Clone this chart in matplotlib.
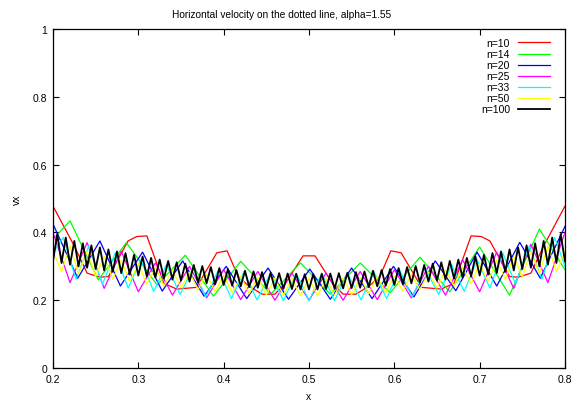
import matplotlib
matplotlib.use("Agg")
import matplotlib.pyplot as plt
import numpy as np

plt.rcParams['font.family'] = ['Liberation Sans', 'DejaVu Sans']

# n=10
red_x = [0.200, 0.225, 0.240, 0.255, 0.265, 0.288, 0.298, 0.310, 0.330, 0.345,
         0.368, 0.392, 0.404, 0.417, 0.429, 0.445, 0.460, 0.472, 0.493, 0.507,
         0.528, 0.540, 0.555, 0.571, 0.583, 0.596, 0.608, 0.632, 0.655, 0.670,
         0.690, 0.702, 0.712, 0.735, 0.745, 0.760, 0.775, 0.800]
red_y = [0.478, 0.36, 0.28, 0.268, 0.27, 0.375, 0.388, 0.39, 0.25, 0.233,
         0.238, 0.34, 0.346, 0.27, 0.243, 0.218, 0.218, 0.248, 0.331, 0.331,
         0.248, 0.218, 0.218, 0.243, 0.27, 0.346, 0.34, 0.238, 0.233, 0.25,
         0.39, 0.388, 0.375, 0.27, 0.268, 0.28, 0.36, 0.478]

# n=14
green_x = [0.2, 0.22, 0.253, 0.286, 0.322, 0.355, 0.388, 0.42, 0.455, 0.49,
           0.525, 0.56, 0.595, 0.63, 0.665, 0.70, 0.735, 0.77, 0.8]
green_y = [0.38, 0.434, 0.26, 0.37, 0.245, 0.333, 0.212, 0.315, 0.218, 0.31,
           0.218, 0.31, 0.222, 0.327, 0.225, 0.357, 0.215, 0.41, 0.29]

# n=20
blue_x = [0.2, 0.229, 0.255, 0.279, 0.305, 0.328, 0.352, 0.377, 0.403, 0.427,
          0.452, 0.476, 0.501, 0.525, 0.55, 0.574, 0.599, 0.623, 0.648, 0.672,
          0.697, 0.72, 0.747, 0.771, 0.8]
blue_y = [0.425, 0.265, 0.375, 0.242, 0.342, 0.227, 0.316, 0.212, 0.30, 0.205,
          0.295, 0.203, 0.292, 0.203, 0.295, 0.205, 0.30, 0.21, 0.316, 0.228,
          0.342, 0.242, 0.371, 0.265, 0.418]

# n=25
mag_x = [0.20, 0.22, 0.24, 0.26, 0.28, 0.30, 0.32, 0.34, 0.36, 0.38, 0.40,
         0.42, 0.44, 0.46, 0.48, 0.50, 0.52, 0.54, 0.56, 0.58, 0.60, 0.62,
         0.64, 0.66, 0.68, 0.70, 0.72, 0.74, 0.76, 0.78, 0.80]
mag_y = [0.40, 0.252, 0.37, 0.235, 0.345, 0.225, 0.31, 0.215, 0.30, 0.207,
         0.29, 0.202, 0.285, 0.20, 0.28, 0.20, 0.28, 0.20, 0.285, 0.202,
         0.29, 0.207, 0.30, 0.215, 0.32, 0.225, 0.342, 0.235, 0.365, 0.252, 0.40]

# n=33
cyan_x = [0.2, 0.212, 0.227, 0.242, 0.258, 0.273, 0.288, 0.303, 0.318, 0.333,
          0.349, 0.364, 0.379, 0.394, 0.409, 0.424, 0.439, 0.455, 0.470, 0.485,
          0.500, 0.515, 0.530, 0.545, 0.561, 0.576, 0.591, 0.606, 0.621, 0.636,
          0.652, 0.667, 0.682, 0.697, 0.712, 0.727, 0.742, 0.758, 0.773, 0.788, 0.8]
cyan_y = [0.34, 0.385, 0.262, 0.36, 0.248, 0.34, 0.236, 0.32, 0.226, 0.305,
          0.217, 0.295, 0.210, 0.29, 0.205, 0.285, 0.201, 0.28, 0.199, 0.28,
          0.198, 0.28, 0.199, 0.28, 0.201, 0.285, 0.205, 0.29, 0.210, 0.295,
          0.217, 0.305, 0.226, 0.32, 0.236, 0.34, 0.248, 0.36, 0.262, 0.385, 0.30]

# n=50 (sampled every 0.01 from 0.2 to 0.8)
yellow_y = [0.345, 0.285, 0.360, 0.278, 0.345, 0.270, 0.330, 0.262, 0.318, 0.255,
            0.308, 0.248, 0.298, 0.242, 0.290, 0.236, 0.283, 0.231, 0.277, 0.226,
            0.273, 0.222, 0.270, 0.219, 0.268, 0.216, 0.266, 0.214, 0.265, 0.213,
            0.265, 0.213, 0.265, 0.214, 0.266, 0.216, 0.268, 0.219, 0.270, 0.222,
            0.273, 0.226, 0.277, 0.231, 0.283, 0.236, 0.290, 0.242, 0.298, 0.248,
            0.308, 0.255, 0.318, 0.262, 0.330, 0.270, 0.345, 0.278, 0.360, 0.285,
            0.345]

# n=100 (sampled every 0.005 from 0.2 to 0.8)
black_y = [0.315, 0.395, 0.310, 0.385, 0.305, 0.375, 0.300, 0.368, 0.296, 0.362,
           0.292, 0.356, 0.288, 0.350, 0.284, 0.344, 0.280, 0.339, 0.276, 0.334,
           0.273, 0.329, 0.270, 0.325, 0.267, 0.320, 0.264, 0.316, 0.261, 0.312,
           0.258, 0.308, 0.255, 0.304, 0.252, 0.301, 0.250, 0.298, 0.247, 0.295,
           0.245, 0.292, 0.243, 0.289, 0.241, 0.287, 0.239, 0.285, 0.237, 0.283,
           0.236, 0.281, 0.235, 0.280, 0.234, 0.279, 0.233, 0.278, 0.232, 0.277,
           0.232,
           0.277, 0.232, 0.278, 0.233, 0.279, 0.234, 0.280, 0.235, 0.281, 0.236,
           0.283, 0.237, 0.285, 0.239, 0.287, 0.241, 0.289, 0.243, 0.292, 0.245,
           0.295, 0.247, 0.298, 0.250, 0.301, 0.252, 0.304, 0.255, 0.308, 0.258,
           0.312, 0.261, 0.316, 0.264, 0.320, 0.267, 0.325, 0.270, 0.329, 0.273,
           0.334, 0.276, 0.339, 0.280, 0.344, 0.284, 0.350, 0.288, 0.356, 0.292,
           0.362, 0.296, 0.368, 0.300, 0.375, 0.305, 0.385, 0.310, 0.395, 0.315]

yellow_x = np.linspace(0.2, 0.8, len(yellow_y))
black_x = np.linspace(0.2, 0.8, len(black_y))

fig = plt.figure(figsize=(5.74, 4.02), dpi=100)
ax = fig.add_axes([0.0923, 0.082, 0.892, 0.843])

ax.plot(red_x, red_y, color="#ff0000", lw=0.9, label="n=10")
ax.plot(green_x, green_y, color="#00ff00", lw=0.9, label="n=14")
ax.plot(blue_x, blue_y, color="#0000ff", lw=0.9, label="n=20")
ax.plot(mag_x, mag_y, color="#ff00ff", lw=0.9, label="n=25")
ax.plot(cyan_x, cyan_y, color="#00ffff", lw=0.9, label="n=33")
ax.plot(yellow_x, yellow_y, color="#ffff00", lw=0.9, label="n=50")
ax.plot(black_x, black_y, color="#000000", lw=1.3, label="n=100")

ax.set_xlim(0.2, 0.8)
ax.set_ylim(0, 1)
ax.set_xticks([0.2, 0.3, 0.4, 0.5, 0.6, 0.7, 0.8])
ax.set_xticklabels(["0.2", "0.3", "0.4", "0.5", "0.6", "0.7", "0.8"])
ax.set_yticks([0, 0.2, 0.4, 0.6, 0.8, 1])
ax.set_yticklabels(["0", "0.2", "0.4", "0.6", "0.8", "1"])
ax.tick_params(direction="in", length=4, width=0.8, labelsize=7.5,
               top=True, right=True, pad=4)
for s in ax.spines.values():
    s.set_linewidth(0.9)

fig.text(0.49, 0.962, "Horizontal velocity on the dotted line, alpha=1.55",
         fontsize=7.3, ha="center", va="center")
ax.set_xlabel("x", fontsize=7.5, labelpad=5)
ax.set_ylabel("vx", fontsize=7.5, labelpad=8)

leg = ax.legend(loc="upper right", frameon=False, markerfirst=False, fontsize=7.5,
                handlelength=3.1, handletextpad=0.75, labelspacing=0.1,
                borderaxespad=0.3, bbox_to_anchor=(0.985, 0.995))
for col in leg._legend_handle_box.get_children():
    col.align = "right"

fig.savefig("out.png", dpi=100)
